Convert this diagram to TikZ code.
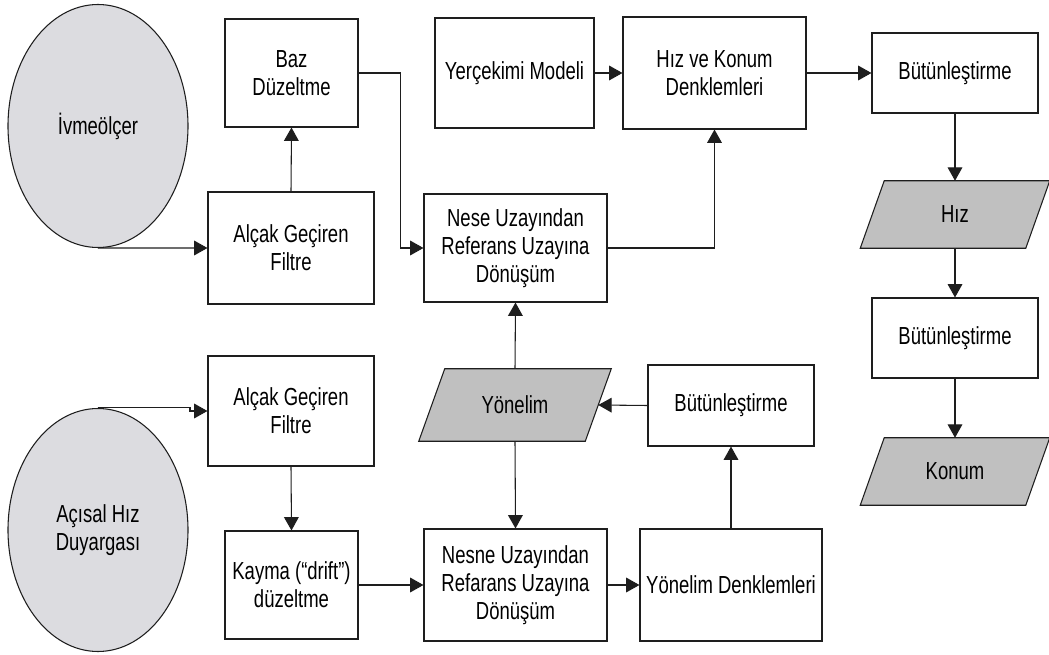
\documentclass[tikz,border=0pt]{standalone}
\usepackage{fontspec}
\setmainfont{Liberation Sans}[FakeStretch=0.75]
\usetikzlibrary{arrows.meta,backgrounds,shapes.geometric}
\definecolor{ellgray}{RGB}{220,220,224}
\definecolor{paragray}{RGB}{192,192,192}
\definecolor{linegray}{RGB}{30,30,30}
\newcommand\myparallel[2]{%
  \begin{scope}[on background layer]
    \draw[parashape] ([shift={(#2,0)}]#1.north west) -- ([shift={(#2,0)}]#1.north east)
      -- ([shift={(-#2,0)}]#1.south east) -- ([shift={(-#2,0)}]#1.south west) -- cycle;
  \end{scope}}
\begin{document}
\begin{tikzpicture}[x=0.75pt,y=-0.75pt,
  txt/.style={align=center, inner sep=0pt, font=\fontsize{18.5}{21}\selectfont},
  box/.style={txt, draw=linegray, line width=0.8pt, fill=white},
  sz/.style 2 args={minimum width=#1*0.75pt, minimum height=#2*0.75pt},
  sensor/.style={txt, ellipse, draw=linegray, line width=0.8pt, fill=ellgray, minimum width=180*0.75pt, minimum height=243*0.75pt},
  para/.style={txt},
  parashape/.style={draw=linegray, line width=0.8pt, fill=paragray},
  arr/.style={draw=linegray, line width=0.8pt, -{Triangle[length=10pt,width=11pt]}}]
\useasboundingbox (0,0) rectangle (1049,655);

% sensors
\node[sensor] (ivme) at (98,126) {İvmeölçer};
\node[sensor] (acisal) at (98,530) {Açısal Hız\\Duyargası};

% top branch
\node[box, sz={133}{108}] (baz) at (291.5,73) {Baz\\Düzeltme};
\node[box, sz={166}{112}] (agf1) at (291,248) {Alçak Geçiren\\Filtre};
\node[box, sz={159}{110}] (yer) at (514.5,73) {Yerçekimi Modeli};
\node[box, sz={183}{112}] (hk) at (714.5,73) {Hız ve Konum\\Denklemleri};
\node[box, sz={166}{80}] (but1) at (955,73) {Bütünleştirme};
\node[box, sz={183}{108}] (nese) at (515.5,248) {Nese Uzayından\\Referans Uzayına\\Dönüşüm};

% right column
\node[para, sz={165}{67}] (hiz) at (955,214.5) {Hız};
\myparallel{hiz}{12}
\node[box, sz={166}{80}] (but2) at (955,338) {Bütünleştirme};
\node[para, sz={165}{67}] (konum) at (955,471.5) {Konum};
\myparallel{konum}{12}

% bottom branch
\node[box, sz={166}{110}] (agf2) at (291,411) {Alçak Geçiren\\Filtre};
\node[box, sz={133}{108}] (kayma) at (291.5,585) {Kayma (“drift”)\\düzeltme};
\node[para, sz={166}{72}] (yon) at (515,405) {Yönelim};
\myparallel{yon}{13}
\node[box, sz={166}{81}] (but3) at (731,405.5) {Bütünleştirme};
\node[box, sz={183}{112}] (nesne) at (515.5,585) {Nesne Uzayından\\Refarans Uzayına\\Dönüşüm};
\node[box, sz={182}{112}] (yd) at (731,585) {Yönelim Denklemleri};

% connectors
\draw[arr] (ivme.south) -- (agf1.west);
\draw[arr] (agf1.north) -- (baz.south);
\draw[arr] (baz.east) -- ++(42,0) |- (nese.west);
\draw[arr] (yer.east) -- (hk.west);
\draw[arr] (nese.east) -| (hk.south);
\draw[arr] (hk.east) -- (but1.west);
\draw[arr] (but1.south) -- (hiz.north);
\draw[arr] (hiz.south) -- (but2.north);
\draw[arr] (but2.south) -- (konum.north);

\draw[arr] (acisal.north) -- ++(92,0) |- (agf2.west);
\draw[arr] (agf2.south) -- (kayma.north);
\draw[arr] (kayma.east) -- (nesne.west);
\draw[arr] (yon.north) -- (nese.south);
\draw[arr] (yon.south) -- (nesne.north);
\draw[arr] (nesne.east) -- (yd.west);
\draw[arr] (yd.north) -- (but3.south);
\draw[arr] (but3.west) -- (yon.east);
\end{tikzpicture}
\end{document}
